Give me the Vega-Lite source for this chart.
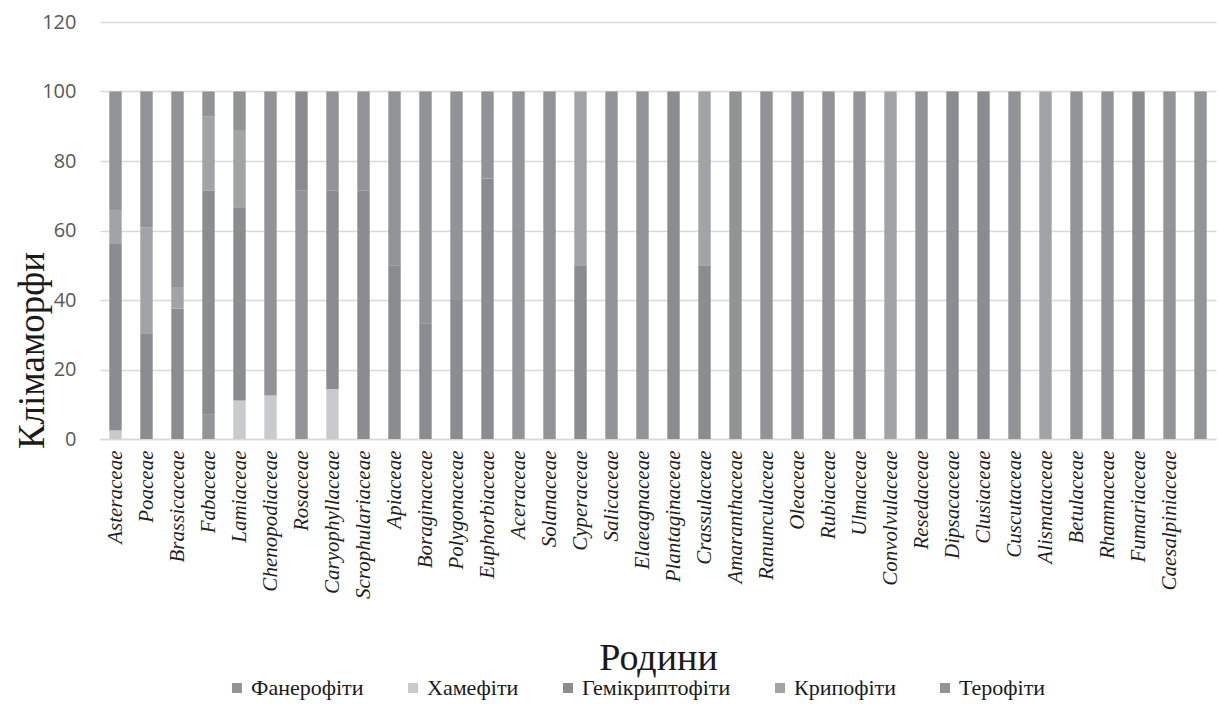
{
  "$schema": "https://vega.github.io/schema/vega-lite/v6.json",
  "description": "Climamorphs by family, 100% stacked bars",
  "width": 1116,
  "height": 417,
  "autosize": {"type": "none"},
  "padding": {"left": 100, "top": 22, "right": 2, "bottom": 265},
  "background": "#ffffff",
  "config": {
    "view": {"stroke": null},
    "legend": {"labelFont": "Liberation Serif", "labelFontSize": 22, "labelColor": "#1a1a1a"}
  },
  "data": {
    "values": [
      {"family": "Asteraceae", "Фанерофіти": 0, "Хамефіти": 2.44, "Гемікриптофіти": 53.66, "Крипофіти": 9.76, "Терофіти": 34.15},
      {"family": "Poaceae", "Фанерофіти": 0, "Хамефіти": 0, "Гемікриптофіти": 30.43, "Крипофіти": 30.43, "Терофіти": 39.13},
      {"family": "Brassicaceae", "Фанерофіти": 0, "Хамефіти": 0, "Гемікриптофіти": 37.5, "Крипофіти": 6.25, "Терофіти": 56.25},
      {"family": "Fabaceae", "Фанерофіти": 7.14, "Хамефіти": 0, "Гемікриптофіти": 64.29, "Крипофіти": 21.43, "Терофіти": 7.14},
      {"family": "Lamiaceae", "Фанерофіти": 0, "Хамефіти": 11.11, "Гемікриптофіти": 55.56, "Крипофіти": 22.22, "Терофіти": 11.11},
      {"family": "Chenopodiaceae", "Фанерофіти": 0, "Хамефіти": 12.5, "Гемікриптофіти": 0, "Крипофіти": 0, "Терофіти": 87.5},
      {"family": "Rosaceae", "Фанерофіти": 71.43, "Хамефіти": 0, "Гемікриптофіти": 28.57, "Крипофіти": 0, "Терофіти": 0},
      {"family": "Caryophyllaceae", "Фанерофіти": 0, "Хамефіти": 14.29, "Гемікриптофіти": 57.14, "Крипофіти": 0, "Терофіти": 28.57},
      {"family": "Scrophulariaceae", "Фанерофіти": 0, "Хамефіти": 0, "Гемікриптофіти": 71.43, "Крипофіти": 0, "Терофіти": 28.57},
      {"family": "Apiaceae", "Фанерофіти": 0, "Хамефіти": 0, "Гемікриптофіти": 50, "Крипофіти": 0, "Терофіти": 50},
      {"family": "Boraginaceae", "Фанерофіти": 0, "Хамефіти": 0, "Гемікриптофіти": 33.33, "Крипофіти": 0, "Терофіти": 66.67},
      {"family": "Polygonaceae", "Фанерофіти": 0, "Хамефіти": 0, "Гемікриптофіти": 40, "Крипофіти": 0, "Терофіти": 60},
      {"family": "Euphorbiaceae", "Фанерофіти": 0, "Хамефіти": 0, "Гемікриптофіти": 75, "Крипофіти": 0, "Терофіти": 25},
      {"family": "Aceraceae", "Фанерофіти": 100, "Хамефіти": 0, "Гемікриптофіти": 0, "Крипофіти": 0, "Терофіти": 0},
      {"family": "Solanaceae", "Фанерофіти": 0, "Хамефіти": 0, "Гемікриптофіти": 0, "Крипофіти": 0, "Терофіти": 100},
      {"family": "Cyperaceae", "Фанерофіти": 0, "Хамефіти": 0, "Гемікриптофіти": 50, "Крипофіти": 50, "Терофіти": 0},
      {"family": "Salicaceae", "Фанерофіти": 100, "Хамефіти": 0, "Гемікриптофіти": 0, "Крипофіти": 0, "Терофіти": 0},
      {"family": "Elaeagnaceae", "Фанерофіти": 100, "Хамефіти": 0, "Гемікриптофіти": 0, "Крипофіти": 0, "Терофіти": 0},
      {"family": "Plantaginaceae", "Фанерофіти": 0, "Хамефіти": 0, "Гемікриптофіти": 100, "Крипофіти": 0, "Терофіти": 0},
      {"family": "Crassulaceae", "Фанерофіти": 0, "Хамефіти": 0, "Гемікриптофіти": 50, "Крипофіти": 50, "Терофіти": 0},
      {"family": "Amaranthaceae", "Фанерофіти": 0, "Хамефіти": 0, "Гемікриптофіти": 0, "Крипофіти": 0, "Терофіти": 100},
      {"family": "Ranunculaceae", "Фанерофіти": 0, "Хамефіти": 0, "Гемікриптофіти": 0, "Крипофіти": 0, "Терофіти": 100},
      {"family": "Oleaceae", "Фанерофіти": 100, "Хамефіти": 0, "Гемікриптофіти": 0, "Крипофіти": 0, "Терофіти": 0},
      {"family": "Rubiaceae", "Фанерофіти": 0, "Хамефіти": 0, "Гемікриптофіти": 0, "Крипофіти": 0, "Терофіти": 100},
      {"family": "Ulmaceae", "Фанерофіти": 100, "Хамефіти": 0, "Гемікриптофіти": 0, "Крипофіти": 0, "Терофіти": 0},
      {"family": "Convolvulaceae", "Фанерофіти": 0, "Хамефіти": 0, "Гемікриптофіти": 0, "Крипофіти": 100, "Терофіти": 0},
      {"family": "Resedaceae", "Фанерофіти": 0, "Хамефіти": 0, "Гемікриптофіти": 0, "Крипофіти": 0, "Терофіти": 100},
      {"family": "Dipsacaceae", "Фанерофіти": 0, "Хамефіти": 0, "Гемікриптофіти": 100, "Крипофіти": 0, "Терофіти": 0},
      {"family": "Clusiaceae", "Фанерофіти": 0, "Хамефіти": 0, "Гемікриптофіти": 100, "Крипофіти": 0, "Терофіти": 0},
      {"family": "Cuscutaceae", "Фанерофіти": 0, "Хамефіти": 0, "Гемікриптофіти": 0, "Крипофіти": 0, "Терофіти": 100},
      {"family": "Alismataceae", "Фанерофіти": 0, "Хамефіти": 0, "Гемікриптофіти": 0, "Крипофіти": 100, "Терофіти": 0},
      {"family": "Betulaceae", "Фанерофіти": 100, "Хамефіти": 0, "Гемікриптофіти": 0, "Крипофіти": 0, "Терофіти": 0},
      {"family": "Rhamnaceae", "Фанерофіти": 100, "Хамефіти": 0, "Гемікриптофіти": 0, "Крипофіти": 0, "Терофіти": 0},
      {"family": "Fumariaceae", "Фанерофіти": 0, "Хамефіти": 0, "Гемікриптофіти": 100, "Крипофіти": 0, "Терофіти": 0},
      {"family": "Caesalpiniaceae", "Фанерофіти": 100, "Хамефіти": 0, "Гемікриптофіти": 0, "Крипофіти": 0, "Терофіти": 0},
      {"family": " ", "Фанерофіти": 100, "Хамефіти": 0, "Гемікриптофіти": 0, "Крипофіти": 0, "Терофіти": 0}
    ]
  },
  "transform": [
    {"fold": ["Фанерофіти", "Хамефіти", "Гемікриптофіти", "Крипофіти", "Терофіти"], "as": ["form", "share"]},
    {"calculate": "indexof(['Фанерофіти','Хамефіти','Гемікриптофіти','Крипофіти','Терофіти'], datum.form)", "as": "k"}
  ],
  "mark": {"type": "bar"},
  "encoding": {
    "x": {
      "field": "family",
      "type": "nominal",
      "sort": null,
      "scale": {"paddingInner": 0.6, "paddingOuter": 0.3},
      "axis": {
        "title": "Родини",
        "titleFont": "Liberation Serif",
        "titleFontSize": 38,
        "titleFontWeight": "normal",
        "titleColor": "#1a1a1a",
        "titleY": 230,
        "titleBaseline": "alphabetic",
        "labelAngle": -90,
        "labelFont": "Liberation Serif",
        "labelFontStyle": "italic",
        "labelFontSize": 21,
        "labelColor": "#1f1f1f",
        "labelPadding": 11,
        "labelLimit": 0,
        "ticks": false,
        "domainColor": "#d9d9d9",
        "domainWidth": 1.5
      }
    },
    "y": {
      "field": "share",
      "type": "quantitative",
      "stack": "zero",
      "scale": {"domain": [0, 120]},
      "axis": {
        "title": "Клімаморфи",
        "titleFont": "Liberation Serif",
        "titleFontSize": 37,
        "titleFontWeight": "normal",
        "titleColor": "#1a1a1a",
        "titleX": -68,
        "titleY": 328,
        "titleBaseline": "middle",
        "values": [0, 20, 40, 60, 80, 100, 120],
        "labelFont": "Open Sans",
        "labelFontSize": 20,
        "labelColor": "#595959",
        "labelPadding": 24,
        "domain": false,
        "ticks": false,
        "gridColor": "#d9d9d9",
        "gridWidth": 1.5
      }
    },
    "color": {
      "field": "form",
      "type": "nominal",
      "scale": {
        "domain": ["Фанерофіти", "Хамефіти", "Гемікриптофіти", "Крипофіти", "Терофіти"],
        "range": ["#939498", "#c9cacc", "#8b8c90", "#a2a3a7", "#929397"]
      },
      "legend": {
        "title": null,
        "orient": "none",
        "direction": "horizontal",
        "legendX": 126,
        "legendY": 655,
        "symbolType": "square",
        "symbolSize": 100,
        "symbolStrokeWidth": 0,
        "labelFont": "Liberation Serif",
        "labelFontSize": 22,
        "labelColor": "#1a1a1a",
        "labelOffset": 3,
        "columnPadding": 38
      }
    },
    "order": {"field": "k", "type": "quantitative", "sort": "ascending"}
  }
}
